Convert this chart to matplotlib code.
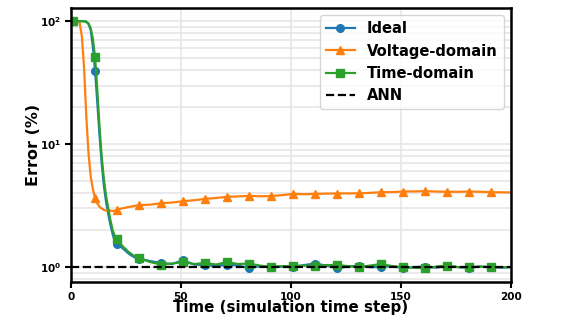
import matplotlib
matplotlib.use("Agg")
import matplotlib.pyplot as plt
import numpy as np

# time steps: every step up to 31, then every 5 steps
t = list(range(1, 32)) + list(range(36, 197, 5)) + [200]

ideal = [100, 100, 100, 100, 100, 100, 99, 95, 85, 62,
         39.5, 22, 12, 7, 4.6, 3.4, 2.7, 2.2, 1.85, 1.62,
         1.55, 1.5, 1.45, 1.4, 1.35, 1.3, 1.26, 1.23, 1.2, 1.18, 1.17,
         1.12, 1.08, 1.06, 1.14, 1.05, 1.04, 1.02, 1.05, 1.03, 0.98,
         1.02, 1.0, 1.01, 1.0, 1.04, 1.07, 1.03, 0.98, 1.01, 1.03,
         1.0, 1.0, 1.02, 0.98, 1.0, 1.01, 0.99, 1.02, 1.0, 0.99,
         1.01, 1.0, 0.99, 1.0]

voltage = [100, 100, 100, 97, 75, 42, 17, 8.5, 5.5, 4.3,
           3.65, 3.3, 3.1, 3.0, 2.92, 2.88, 2.9, 2.88, 2.86, 2.88,
           2.9, 2.95, 3.0, 3.02, 3.05, 3.08, 3.1, 3.12, 3.15, 3.17, 3.19,
           3.22, 3.31, 3.35, 3.44, 3.5, 3.59, 3.65, 3.73, 3.76, 3.8,
           3.77, 3.78, 3.85, 3.94, 3.92, 3.94, 3.96, 3.97, 3.98, 3.98,
           4.02, 4.07, 4.08, 4.12, 4.13, 4.15, 4.12, 4.1, 4.1, 4.12,
           4.1, 4.07, 4.06, 4.05]

timedom = [100, 100, 100, 100, 100, 100, 99, 96, 88, 72,
           51, 28, 14, 8, 5.2, 3.8, 3.0, 2.4, 2.0, 1.78,
           1.68, 1.6, 1.52, 1.45, 1.4, 1.34, 1.3, 1.26, 1.23, 1.21, 1.19,
           1.1, 1.05, 1.07, 1.1, 1.06, 1.08, 1.05, 1.1, 1.06, 1.07,
           1.03, 1.0, 1.02, 1.02, 1.03, 1.02, 1.04, 1.04, 1.02, 1.0,
           1.03, 1.06, 1.02, 1.0, 0.99, 0.98, 1.01, 1.03, 1.0, 1.0,
           1.01, 1.0, 1.0, 1.0]

ann_error = 1.0

plt.rcParams['font.weight'] = 'bold'
plt.rcParams['mathtext.default'] = 'bf'

fig = plt.figure(figsize=(5.67, 3.21), dpi=100)
ax = fig.add_axes([0.125, 0.121, 0.776, 0.854])

mk = [i for i, v in enumerate(t) if (v - 1) % 10 == 0]
ax.plot(t, ideal, color='tab:blue', lw=1.6, marker='o', ms=5.5, markevery=mk, label='Ideal')
ax.plot(t, voltage, color='tab:orange', lw=1.6, marker='^', ms=6, markevery=mk, label='Voltage-domain')
ax.plot(t, timedom, color='tab:green', lw=1.6, marker='s', ms=5.5, markevery=mk, label='Time-domain')
ax.axhline(ann_error, color='black', lw=1.6, ls='--', label='ANN')

ax.set_yscale('log')
ax.set_xlim(0, 200)
ax.set_ylim(0.755, 128)
ax.set_xticks([0, 50, 100, 150, 200])
ax.grid(True, which='both', color='#e6e6e6', lw=1.2)
ax.set_axisbelow(True)

for s in ax.spines.values():
    s.set_linewidth(1.8)
ax.tick_params(which='major', length=4.5, width=1.5, labelsize=7.5, pad=2.5)
ax.tick_params(which='minor', length=0)

ax.set_xlabel('Time (simulation time step)', fontsize=10.8, fontweight='bold', labelpad=-1)
ax.set_ylabel('Error (%)', fontsize=11.5, fontweight='bold', labelpad=-1)

leg = ax.legend(loc='upper right', prop={'weight': 'bold', 'size': 10.6})

fig.savefig('out.png', dpi=100)
